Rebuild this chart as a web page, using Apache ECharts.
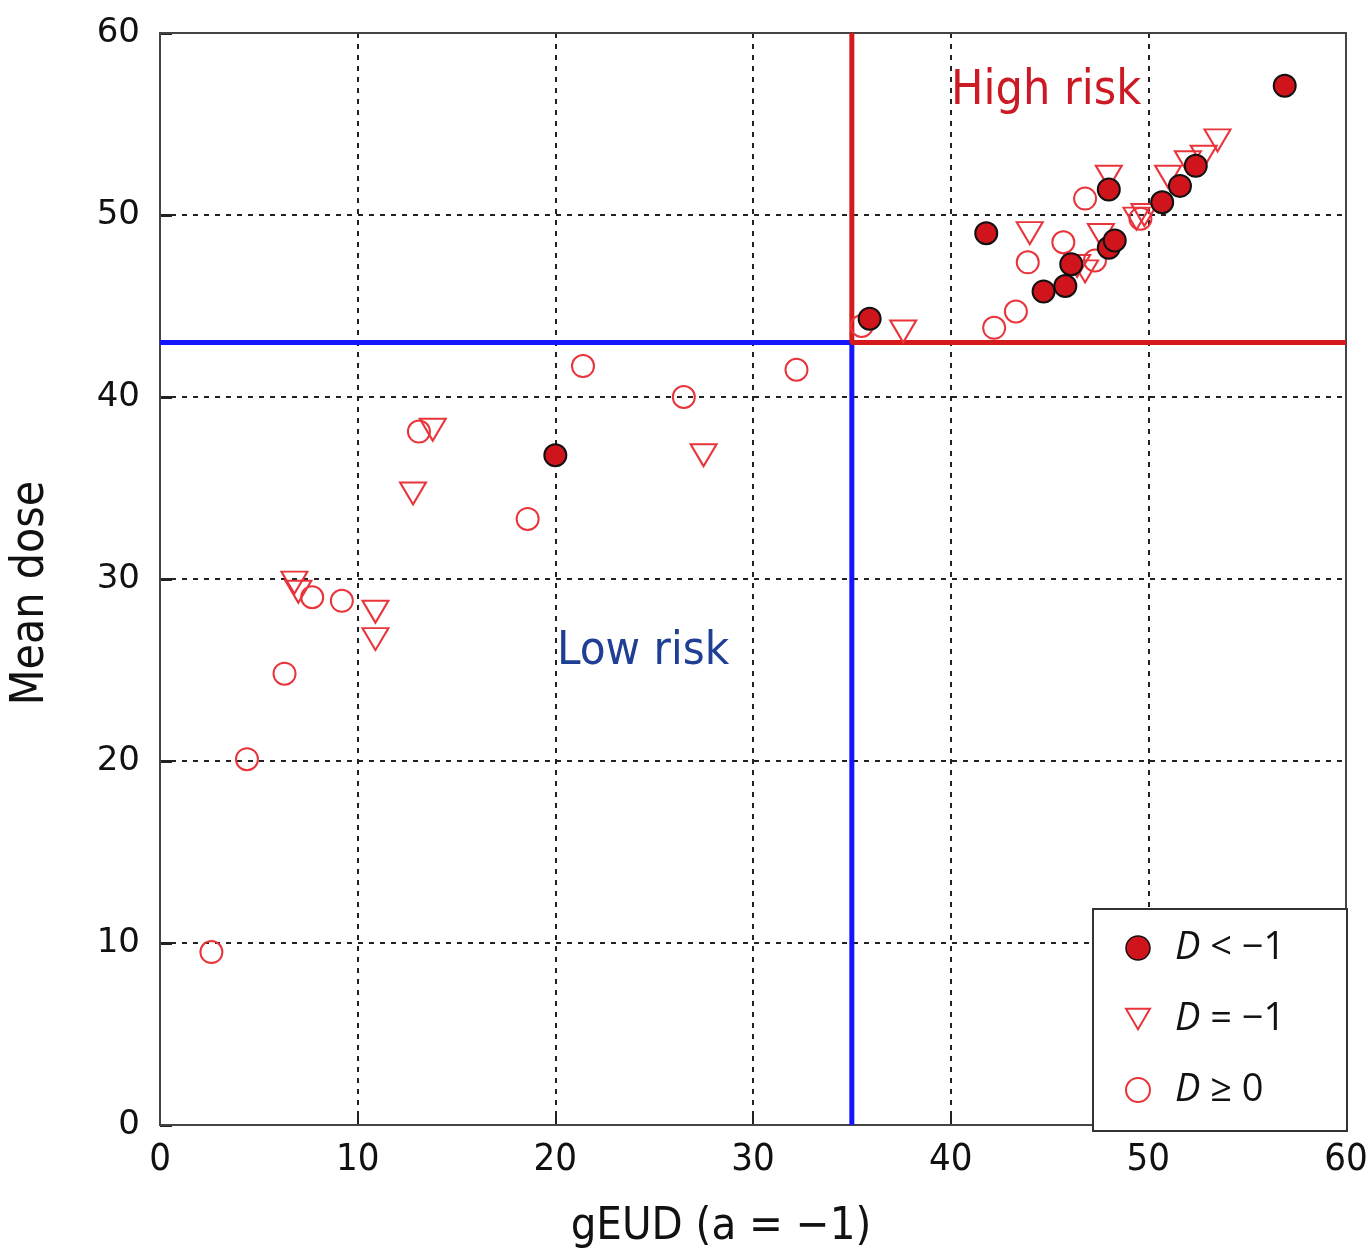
<!DOCTYPE html>
<html>
<head>
<meta charset="utf-8">
<script src="https://cdn.jsdelivr.net/npm/echarts@6/dist/echarts.min.js"></script>
<style>
html,body{margin:0;padding:0;background:#fff;}
#chart{width:1371px;height:1255px;}
</style>
</head>
<body>
<div id="chart"></div>
<script>
// ---- data ----
var seriesNames = ['D < \u22121', 'D = \u22121', 'D \u2265 0'];
var dLessMinus1 = [
  [56.9, 57.1], [35.9, 44.3], [41.8, 49.0], [48.0, 51.4], [44.7, 45.8],
  [45.8, 46.1], [46.1, 47.3], [48.0, 48.2], [48.3, 48.6], [50.7, 50.7],
  [51.6, 51.6], [52.4, 52.7], [20.0, 36.8]
];
var dEqualMinus1 = [
  [37.6, 43.6], [44.0, 49.0], [48.0, 52.1], [47.6, 48.9], [46.8, 46.9],
  [46.4, 47.2], [49.4, 49.8], [49.8, 50.0], [51.0, 52.1], [52.0, 52.9],
  [52.8, 53.2], [53.5, 54.1],
  [13.8, 38.2], [27.5, 36.8], [12.8, 34.7], [6.8, 29.8], [7.0, 29.3],
  [10.9, 28.2], [10.9, 26.7]
];
var dAtLeast0 = [
  [35.5, 43.9], [42.2, 43.8], [43.3, 44.7], [43.9, 47.4], [45.7, 48.5],
  [46.8, 50.9], [47.3, 47.5], [49.6, 49.8],
  [21.4, 41.7], [32.2, 41.5], [26.5, 40.0], [13.1, 38.1], [18.6, 33.3],
  [7.7, 29.0], [9.2, 28.8], [6.3, 24.8], [4.4, 20.1], [2.6, 9.5]
];
var riskX = 35;       // gEUD threshold
var riskY = 43;       // mean dose threshold
var axisMin = 0, axisMax = 60, axisStep = 10;
var xTitle = 'gEUD (a = \u22121)';
var yTitle = 'Mean dose';
var highLabel = 'High risk';
var lowLabel = 'Low risk';

// ---- chart ----
var chart = echarts.init(document.getElementById('chart'), null, {renderer: 'canvas'});
var RED = '#d0141c';
var OPEN_RED = '#e8343a';
var condensed = '"Liberation Sans Narrow","DejaVu Sans Condensed","Open Sans",sans-serif';
var downTri = 'path://M0,0 L20,0 L10,17 Z';

var highLine = [[riskX, axisMax], [riskX, riskY], [axisMax, riskY]];
var lowLine = [[axisMin, riskY], [riskX, riskY], [riskX, axisMin]];

var option = {
  backgroundColor: '#fff',
  animation: false,
  grid: {left: 157, right: 25, top: 33, bottom: 125, show: true,
         backgroundColor: 'transparent', borderColor: '#444', borderWidth: 2, z: 1},
  xAxis: {
    type: 'value', min: axisMin, max: axisMax, interval: axisStep,
    name: xTitle, nameLocation: 'middle', nameGap: 80,
    nameTextStyle: {fontSize: 45, color: '#111', fontFamily: condensed, padding: [0, 64, 0, 0]},
    axisLine: {show: true, onZero: false, lineStyle: {color: '#444', width: 2}},
    axisTick: {show: true, inside: true, length: 10, lineStyle: {color: '#222', width: 2}},
    axisLabel: {fontSize: 38, color: '#111', margin: 16, fontFamily: condensed},
    splitLine: {show: true, lineStyle: {color: '#222', type: [5, 6], width: 2}}
  },
  yAxis: {
    type: 'value', min: axisMin, max: axisMax, interval: axisStep,
    name: yTitle, nameLocation: 'middle', nameGap: 106, nameRotate: 90,
    nameTextStyle: {fontSize: 46, color: '#111', fontFamily: condensed, padding: [0, 28, 0, 0]},
    axisLine: {show: true, onZero: false, lineStyle: {color: '#444', width: 2}},
    axisTick: {show: true, inside: true, length: 12, lineStyle: {color: '#222', width: 3}},
    axisLabel: {fontSize: 34, color: '#111', margin: 20, fontFamily: '"DejaVu Sans",sans-serif'},
    splitLine: {show: true, lineStyle: {color: '#222', type: [5, 6], width: 2}}
  },
  legend: {
    orient: 'vertical', left: 1120, top: 924, z: 20,
    itemGap: 33, itemWidth: 24, itemHeight: 24,
    data: [
      {name: seriesNames[0], icon: 'circle', itemStyle: {color: RED, borderColor: '#111', borderWidth: 1.5, opacity: 1}},
      {name: seriesNames[1], icon: downTri, itemStyle: {color: 'rgba(0,0,0,0)', borderColor: OPEN_RED, borderWidth: 2}},
      {name: seriesNames[2], icon: 'circle', itemStyle: {color: 'rgba(0,0,0,0)', borderColor: OPEN_RED, borderWidth: 2}}
    ],
    formatter: function (name) {
      return '{i|D}{t|' + name.slice(1) + '}';
    },
    textStyle: {
      fontSize: 38, color: '#111', padding: [0, 0, 0, 20],
      rich: {
        i: {fontSize: 38, fontStyle: 'italic', fontFamily: '"Open Sans",sans-serif', color: '#111'},
        t: {fontSize: 38, fontFamily: '"Open Sans",sans-serif', color: '#111'}
      }
    }
  },
  graphic: [
    {type: 'rect', left: 1092, top: 908, z: 15,
     shape: {width: 254, height: 222},
     style: {fill: '#fff', stroke: '#333', lineWidth: 2}},
    {type: 'text', left: 951, top: 68, z: 10,
     style: {text: highLabel, fill: '#cc1a24', fontSize: 48, fontFamily: condensed}},
    {type: 'text', left: 557, top: 628, z: 10,
     style: {text: lowLabel, fill: '#1f3f94', fontSize: 47, fontFamily: condensed}}
  ],
  series: [
    {type: 'line', data: lowLine, symbol: 'none', silent: true, z: 3,
     lineStyle: {color: '#1414ff', width: 5}},
    {type: 'line', data: highLine, symbol: 'none', silent: true, z: 3,
     lineStyle: {color: '#d41a1a', width: 5}},
    {name: seriesNames[2], type: 'scatter', data: dAtLeast0, symbol: 'circle', symbolSize: 22, z: 5,
     itemStyle: {color: 'rgba(0,0,0,0)', borderColor: OPEN_RED, borderWidth: 2, opacity: 1}},
    {name: seriesNames[1], type: 'scatter', data: dEqualMinus1, symbol: 'triangle', symbolRotate: 180, symbolSize: [26, 22], z: 6,
     itemStyle: {color: 'rgba(0,0,0,0)', borderColor: OPEN_RED, borderWidth: 2, opacity: 1}},
    {name: seriesNames[0], type: 'scatter', data: dLessMinus1, symbol: 'circle', symbolSize: 22, z: 7,
     itemStyle: {color: RED, borderColor: '#111', borderWidth: 2, opacity: 1}}
  ]
};
chart.setOption(option);
</script>
</body>
</html>
